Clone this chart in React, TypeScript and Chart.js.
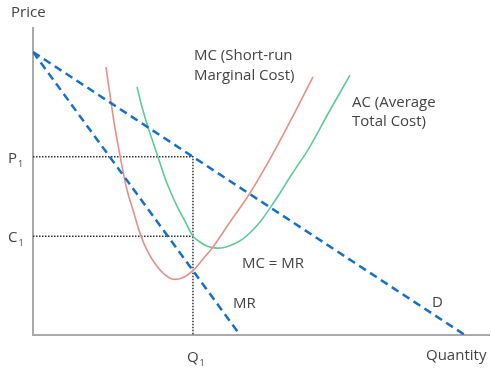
import React, { useEffect, useRef } from "react";
import { Chart, registerables } from "chart.js";

Chart.register(...registerables);

// Economic diagram values (0–100 abstract units)
const Q1 = 35;
const P1 = 57.9;
const C1 = 32.1;

const demandX = [0, 94.5];
const demandY = [91.9, 0];

const mrX = [0, 45.3];
const mrY = [91.9, 0];

const mcX = [15.97, 16.85, 17.72, 18.6, 19.47, 20.57, 21.88, 23.63, 25.16, 26.91, 28.67, 30.42, 32.6, 35.0, 37.2, 39.39, 43.11, 47.48, 52.95, 57.33, 61.27];
const mcY = [87.0, 77.9, 69.2, 61.7, 54.9, 47.1, 40.6, 32.1, 26.9, 22.7, 19.8, 18.2, 18.5, 20.9, 24.7, 28.6, 36.7, 46.1, 60.1, 72.4, 83.8];

const acX = [22.76, 23.85, 25.16, 27.35, 28.88, 30.2, 31.73, 33.26, 35.0, 36.54, 38.3, 40.26, 42.23, 44.2, 45.95, 47.48, 49.67, 51.86, 54.05, 56.24, 58.42, 60.18, 64.77, 69.37];
const acY = [80.5, 74.0, 67.5, 57.8, 51.0, 46.1, 41.2, 37.0, 32.1, 30.2, 28.7, 28.2, 28.6, 29.7, 31.2, 33.2, 36.7, 41.2, 46.1, 51.3, 56.2, 60.1, 72.4, 84.4];

const axisTitleX = "Quantity";
const axisTitleY = "Price";
const tickLabels = [
  { main: "P", sub: "1", axis: "y", value: P1 },
  { main: "C", sub: "1", axis: "y", value: C1 },
  { main: "Q", sub: "1", axis: "x", value: Q1 },
];

const pts = (xs: number[], ys: number[]) => xs.map((x, i) => ({ x, y: ys[i] }));

export default function App() {
  const ref = useRef<HTMLCanvasElement | null>(null);

  useEffect(() => {
    if (!ref.current) return;
    const FONT = '15px "Open Sans", sans-serif';
    const SUBFONT = '9px "Open Sans", sans-serif';
    const TEXT = "#444444";

    const overlay = {
      id: "overlay",
      beforeDatasetsDraw(chart: any) {
        const { ctx, chartArea } = chart;
        ctx.save();
        ctx.strokeStyle = "#a9a9a9";
        ctx.lineWidth = 2;
        ctx.beginPath();
        ctx.moveTo(chartArea.left, chartArea.top);
        ctx.lineTo(chartArea.left, chartArea.bottom);
        ctx.lineTo(chartArea.right, chartArea.bottom);
        ctx.stroke();
        ctx.restore();
      },
      afterDraw(chart: any) {
        const { ctx, scales } = chart;
        const xs = scales.x;
        const ys = scales.y;
        ctx.save();
        ctx.fillStyle = TEXT;
        ctx.textBaseline = "alphabetic";
        ctx.textAlign = "left";
        ctx.font = FONT;
        ctx.fillText(axisTitleY, 11, 17);
        ctx.fillText(axisTitleX, 426, 360);

        tickLabels.forEach((t) => {
          let x: number, y: number;
          if (t.axis === "y") {
            x = 8;
            y = ys.getPixelForValue(t.value) + 6;
          } else {
            x = xs.getPixelForValue(t.value) - 6;
            y = 362;
          }
          ctx.font = FONT;
          ctx.fillText(t.main, x, y);
          const w = ctx.measureText(t.main).width;
          ctx.font = SUBFONT;
          ctx.fillText(t.sub, x + w + 1, y + 4);
        });

        ctx.font = FONT;
        ctx.fillText("MC (Short-run", 194, 60);
        ctx.fillText("Marginal Cost)", 194, 80);
        ctx.fillText("AC (Average", 352, 107);
        ctx.fillText("Total Cost)", 352, 126);
        ctx.fillText("MC = MR", 242, 268);
        ctx.fillText("MR", 233, 308);
        ctx.fillText("D", 432, 307);
        ctx.restore();
      },
    };

    const blue = "#1470cc";
    const chart = new Chart(ref.current, {
      type: "scatter",
      data: {
        datasets: [
          {
            label: "D",
            data: pts(demandX, demandY),
            showLine: true,
            borderColor: blue,
            borderWidth: 2.5,
            borderDash: [8, 5],
            pointRadius: 0,
            order: 1,
          },
          {
            label: "MR",
            data: pts(mrX, mrY),
            showLine: true,
            borderColor: blue,
            borderWidth: 2.5,
            borderDash: [8, 5],
            pointRadius: 0,
            order: 1,
          },
          {
            label: "MC",
            data: pts(mcX, mcY),
            showLine: true,
            borderColor: "#e88f87",
            borderWidth: 1.6,
            tension: 0.4,
            pointRadius: 0,
            order: 2,
          },
          {
            label: "AC",
            data: pts(acX, acY),
            showLine: true,
            borderColor: "#5ccb98",
            borderWidth: 1.6,
            tension: 0.4,
            pointRadius: 0,
            order: 2,
          },
          {
            label: "P1 guide",
            data: [
              { x: 0, y: P1 },
              { x: Q1, y: P1 },
              { x: Q1, y: 0 },
            ],
            showLine: true,
            borderColor: "#333333",
            borderWidth: 1.5,
            borderDash: [1.5, 1.5],
            pointRadius: 0,
            order: 3,
          },
          {
            label: "C1 guide",
            data: [
              { x: 0, y: C1 },
              { x: Q1, y: C1 },
            ],
            showLine: true,
            borderColor: "#333333",
            borderWidth: 1.5,
            borderDash: [1.5, 1.5],
            pointRadius: 0,
            order: 3,
          },
        ],
      },
      options: {
        animation: false,
        responsive: false,
        maintainAspectRatio: false,
        layout: { padding: { left: 33, right: 1, top: 27, bottom: 35 } },
        plugins: {
          legend: { display: false },
          tooltip: { enabled: false },
        },
        scales: {
          x: { type: "linear", min: 0, max: 100, display: false },
          y: { type: "linear", min: 0, max: 100, display: false },
        },
        events: [],
      } as any,
      plugins: [overlay],
    });
    return () => chart.destroy();
  }, []);

  return (
    <div style={{ position: "absolute", left: 0, top: 0, width: 491, height: 370, background: "#fff" }}>
      <canvas ref={ref} width={491} height={370} />
    </div>
  );
}
